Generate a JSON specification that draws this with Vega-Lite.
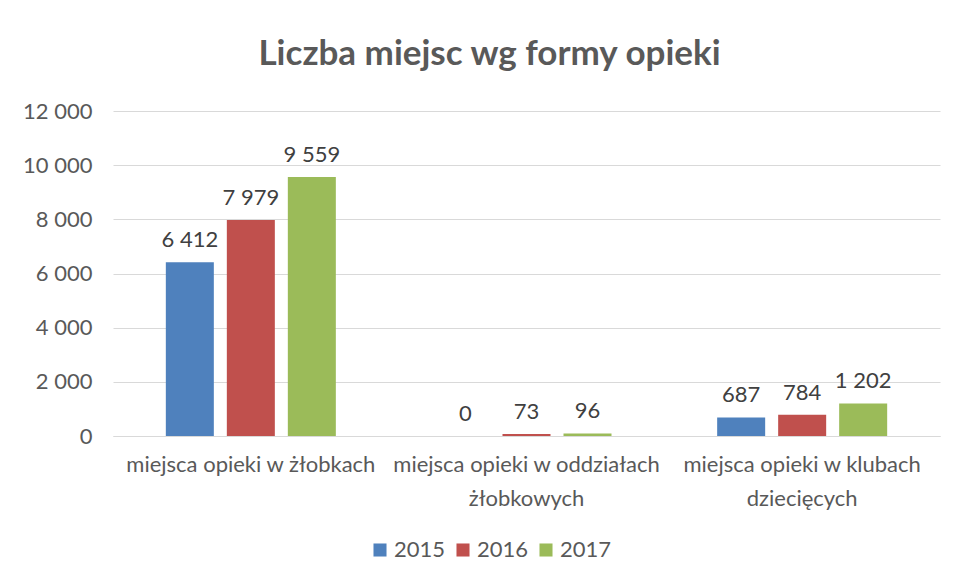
{
  "$schema": "https://vega.github.io/schema/vega-lite/v6.json",
  "width": 827,
  "height": 325,
  "autosize": {"type": "none"},
  "padding": {"left": 113, "top": 111, "right": 15, "bottom": 145},
  "background": "white",
  "title": {
    "text": "Liczba miejsc wg formy opieki",
    "font": "Lato",
    "fontSize": 35,
    "fontWeight": "bold",
    "color": "#595959",
    "anchor": "middle",
    "dx": -37,
    "offset": 28
  },
  "data": {
    "values": [
      {"forma": "miejsca opieki w żłobkach", "rok": "2015", "miejsca": 6412},
      {"forma": "miejsca opieki w żłobkach", "rok": "2016", "miejsca": 7979},
      {"forma": "miejsca opieki w żłobkach", "rok": "2017", "miejsca": 9559},
      {"forma": "miejsca opieki w oddziałach żłobkowych", "rok": "2015", "miejsca": 0},
      {"forma": "miejsca opieki w oddziałach żłobkowych", "rok": "2016", "miejsca": 73},
      {"forma": "miejsca opieki w oddziałach żłobkowych", "rok": "2017", "miejsca": 96},
      {"forma": "miejsca opieki w klubach dziecięcych", "rok": "2015", "miejsca": 687},
      {"forma": "miejsca opieki w klubach dziecięcych", "rok": "2016", "miejsca": 784},
      {"forma": "miejsca opieki w klubach dziecięcych", "rok": "2017", "miejsca": 1202}
    ]
  },
  "encoding": {
    "x": {
      "field": "forma",
      "type": "nominal",
      "sort": null,
      "title": null,
      "scale": {"paddingInner": 0, "paddingOuter": 0},
      "axis": {
        "labelAngle": 0,
        "labelFont": "Lato",
        "labelFontSize": 22,
        "labelColor": "#595959",
        "labelPadding": 18,
        "labelLineHeight": 34,
        "labelLimit": 0,
        "ticks": false,
        "domainColor": "#D9D9D9",
        "labelExpr": "datum.label == 'miejsca opieki w oddziałach żłobkowych' ? ['miejsca opieki w oddziałach', 'żłobkowych'] : (datum.label == 'miejsca opieki w klubach dziecięcych' ? ['miejsca opieki w klubach', 'dziecięcych'] : datum.label)"
      }
    },
    "xOffset": {
      "field": "rok",
      "type": "nominal",
      "scale": {"paddingInner": 0.213, "paddingOuter": 0.866}
    },
    "y": {
      "field": "miejsca",
      "type": "quantitative",
      "title": null,
      "scale": {"domain": [0, 12000]},
      "axis": {
        "values": [0, 2000, 4000, 6000, 8000, 10000, 12000],
        "labelFont": "Lato",
        "labelFontSize": 22,
        "labelColor": "#595959",
        "labelPadding": 21,
        "ticks": false,
        "domain": false,
        "gridColor": "#D9D9D9",
        "labelExpr": "replace(format(datum.value, ','), ',', ' ')"
      }
    }
  },
  "layer": [
    {
      "mark": {"type": "bar"},
      "encoding": {
        "color": {
          "field": "rok",
          "type": "nominal",
          "title": null,
          "scale": {"domain": ["2015", "2016", "2017"], "range": ["#4F81BD", "#C0504D", "#9BBB59"]},
          "legend": {
            "orient": "none",
            "direction": "horizontal",
            "legendX": 256,
            "legendY": 428,
            "symbolType": "square",
            "symbolSize": 170,
            "symbolStrokeWidth": 0,
            "labelFont": "Lato",
            "labelFontSize": 22,
            "labelColor": "#595959",
            "columnPadding": 6,
            "labelOffset": 3
          }
        }
      }
    },
    {
      "mark": {"type": "text", "baseline": "alphabetic", "dy": -15, "font": "Lato", "fontSize": 22, "color": "#404040"},
      "encoding": {
        "text": {"field": "miejsca", "type": "quantitative", "format": ","},
        "detail": {"field": "rok"}
      }
    }
  ],
  "config": {
    "view": {"stroke": null},
    "locale": {"number": {"decimal": ",", "thousands": " ", "grouping": [3], "currency": ["", " zł"]}}
  }
}
